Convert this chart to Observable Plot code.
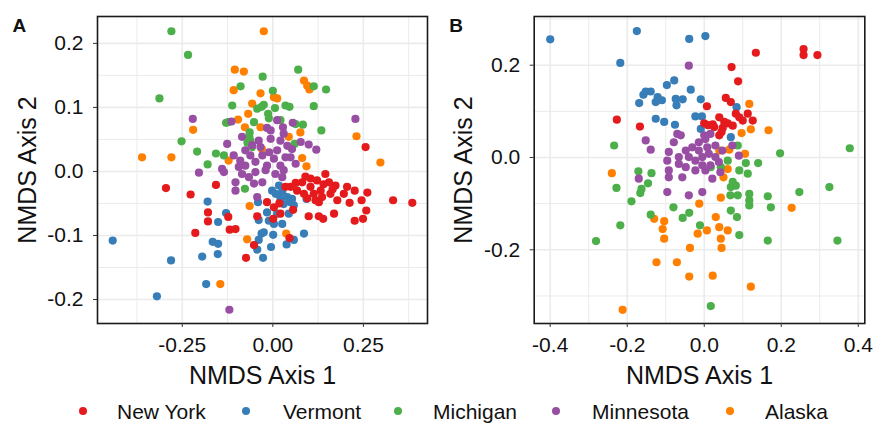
<!DOCTYPE html>
<html><head><meta charset="utf-8">
<script src="https://cdn.jsdelivr.net/npm/d3@7"></script>
<script src="https://cdn.jsdelivr.net/npm/@observablehq/plot@0.6"></script>
<style>
body{margin:0;background:#fff;font-family:"Liberation Sans",Arial,sans-serif;}
#wrap{position:relative;width:874px;height:423px;overflow:hidden;}
#wrap svg{position:absolute;top:0;}
.leg{position:absolute;top:400px;height:24px;line-height:24px;font-size:21px;color:#111;white-space:nowrap}
.dot{position:absolute;top:407px;width:8px;height:8px;border-radius:50%}
</style></head><body><div id="wrap"></div>
<script>
const states = ["New York", "Vermont", "Michigan", "Minnesota", "Alaska"];
const colors = ["#E41A1C", "#377EB8", "#4DAF4A", "#984EA3", "#FF7F00"];
const drawOrder = ["Alaska", "Michigan", "Vermont", "New York", "Minnesota"];

// Panel A (NMDS 1, NMDS 2)
const aNewYork = [[0.256,0.038],[-0.295,-0.026],[-0.227,-0.036],[-0.157,-0.021],[-0.179,-0.064],[-0.179,-0.078],[-0.214,-0.096],[-0.123,-0.071],[-0.119,-0.091],[-0.103,-0.090],[-0.052,-0.115],[-0.074,-0.135],[-0.043,-0.070],[-0.016,-0.048],[0.003,-0.056],[0.001,-0.074],[0.021,-0.066],[0.056,-0.060],[0.046,-0.104],[0.035,-0.024],[0.063,-0.018],[0.081,-0.017],[0.104,-0.011],[0.122,-0.014],[0.145,-0.004],[0.155,-0.017],[0.173,-0.022],[0.205,-0.024],[0.226,-0.030],[0.261,-0.033],[0.104,-0.024],[0.132,-0.030],[0.159,-0.035],[0.118,-0.045],[0.127,-0.048],[0.178,-0.045],[0.212,-0.049],[0.245,-0.045],[0.258,-0.061],[0.249,-0.074],[0.226,-0.077],[0.169,-0.066],[0.139,-0.074],[0.127,-0.070],[0.099,-0.070],[0.332,-0.045],[0.385,-0.049],[0.067,-0.030],[0.049,-0.024],[0.086,-0.035],[0.113,-0.035],[0.196,-0.035],[0.136,-0.040],[0.095,-0.042],[0.140,-0.020],[0.090,-0.008],[0.165,-0.028],[0.018,-0.050]];
const aVermont = [[-0.442,-0.108],[-0.320,-0.195],[-0.281,-0.139],[-0.184,-0.176],[-0.195,-0.133],[-0.180,-0.047],[-0.151,-0.079],[-0.166,-0.110],[-0.151,-0.113],[-0.152,-0.129],[-0.129,-0.065],[-0.041,-0.048],[-0.039,-0.076],[-0.031,-0.097],[-0.039,-0.107],[-0.043,-0.122],[-0.027,-0.135],[-0.005,-0.118],[0.001,-0.099],[-0.011,-0.077],[0.003,-0.082],[0.026,-0.082],[0.038,-0.114],[0.058,-0.107],[0.086,-0.097],[0.093,-0.043],[-0.002,-0.030],[0.017,-0.022],[0.026,-0.032],[0.040,-0.040],[0.049,-0.048],[0.058,-0.053],[0.044,-0.066],[0.021,-0.043],[0.030,-0.051],[-0.016,-0.064],[0.053,-0.043],[0.012,-0.066],[0.008,-0.035],[-0.025,-0.095]];
const aMichigan = [[-0.280,0.219],[-0.234,0.182],[-0.313,0.114],[-0.252,0.047],[-0.209,0.031],[-0.180,0.011],[-0.157,0.028],[-0.129,0.076],[-0.112,0.103],[-0.089,0.133],[-0.028,0.148],[-0.031,0.101],[-0.043,0.098],[-0.025,0.104],[0.000,0.126],[0.006,0.099],[-0.011,0.083],[0.035,0.103],[0.046,0.101],[0.070,0.159],[0.113,0.133],[0.147,0.128],[0.113,0.102],[0.083,0.073],[0.134,0.064],[-0.052,0.077],[-0.064,0.061],[-0.062,0.048],[-0.057,0.038],[-0.077,-0.027],[-0.123,0.077],[-0.135,0.025],[0.063,0.074],[0.060,0.043],[0.021,0.080],[-0.013,0.090],[-0.070,0.045],[-0.065,0.055]];
const aMinnesota = [[-0.221,0.082],[0.228,0.082],[-0.120,-0.216],[-0.204,-0.002],[-0.114,0.078],[-0.016,0.068],[0.012,0.080],[0.028,0.069],[0.055,0.076],[0.030,0.059],[-0.126,0.043],[-0.085,0.054],[-0.039,0.048],[-0.006,0.051],[0.021,0.048],[0.053,0.035],[0.077,0.046],[0.099,0.042],[0.120,0.034],[0.049,0.022],[0.063,0.012],[-0.140,0.004],[-0.108,0.025],[-0.090,0.017],[-0.076,0.009],[-0.062,0.025],[-0.048,0.015],[-0.029,0.025],[-0.016,0.009],[0.003,0.020],[0.021,0.009],[0.035,0.022],[-0.085,-0.004],[-0.066,-0.009],[-0.048,-0.001],[-0.029,-0.017],[-0.103,-0.017],[-0.103,-0.030],[-0.052,-0.019],[-0.020,0.002],[0.007,-0.004],[0.026,-0.009],[-0.043,-0.040],[-0.094,0.007],[0.012,0.033],[-0.034,0.038],[-0.006,0.064],[-0.076,0.033],[0.030,0.002],[-0.057,0.041],[-0.135,-0.001],[-0.010,0.030],[0.040,0.040]];
const aAlaska = [[-0.025,0.219],[-0.105,0.159],[-0.080,0.156],[-0.108,0.127],[-0.034,0.122],[0.003,0.116],[0.012,0.114],[-0.057,0.106],[-0.068,0.090],[-0.096,0.081],[-0.034,0.069],[-0.077,0.069],[-0.220,0.065],[-0.361,0.022],[-0.280,0.022],[-0.122,0.017],[0.086,0.142],[0.095,0.134],[0.101,0.128],[0.076,0.061],[0.044,0.054],[0.081,0.021],[0.093,0.008],[0.231,0.055],[0.297,0.014],[-0.064,-0.054],[-0.071,-0.106],[0.037,-0.097],[-0.145,-0.176],[-0.030,0.035]];

// Panel B (NMDS 1, NMDS 2)
const bNewYork = [[0.134,0.227],[0.258,0.235],[0.258,0.222],[0.294,0.222],[0.071,0.196],[0.088,0.165],[0.056,0.129],[0.069,0.120],[0.007,0.111],[-0.227,0.082],[-0.167,0.067],[0.000,0.074],[0.039,0.087],[0.082,0.095],[0.113,0.095],[0.126,0.080],[0.100,0.080],[0.061,0.074],[0.048,0.064],[0.039,0.048],[0.074,0.069],[0.026,0.066],[0.022,0.072],[0.091,0.087],[0.052,0.077],[0.010,0.070],[0.045,0.055]];
const bVermont = [[-0.400,0.256],[-0.175,0.274],[-0.039,0.257],[0.003,0.263],[-0.218,0.205],[-0.078,0.167],[-0.097,0.157],[-0.035,0.147],[-0.152,0.143],[-0.139,0.143],[-0.121,0.131],[-0.110,0.124],[-0.126,0.120],[-0.169,0.118],[-0.074,0.127],[-0.056,0.126],[-0.072,0.113],[-0.009,0.126],[-0.126,0.084],[-0.104,0.077],[-0.076,0.071],[-0.023,0.089],[-0.006,0.089],[-0.009,0.062],[0.084,0.109],[0.069,0.044],[-0.158,0.136]];
const bMichigan = [[0.378,0.020],[0.197,0.009],[0.140,-0.012],[0.108,-0.012],[0.113,-0.035],[0.091,-0.028],[0.087,0.026],[0.061,-0.007],[0.043,-0.021],[0.017,-0.021],[0.074,-0.053],[0.082,-0.061],[0.069,-0.064],[0.068,-0.082],[0.087,-0.082],[0.117,-0.079],[0.117,-0.093],[0.117,-0.104],[0.165,-0.084],[0.173,-0.108],[0.247,-0.075],[0.325,-0.064],[0.346,-0.180],[0.165,-0.180],[0.091,-0.168],[0.085,-0.129],[0.069,-0.115],[-0.011,-0.147],[-0.039,-0.120],[-0.056,-0.131],[-0.080,-0.108],[-0.139,-0.124],[-0.189,-0.095],[-0.218,-0.147],[-0.281,-0.181],[-0.228,-0.066],[-0.234,0.026],[-0.171,-0.030],[-0.137,-0.034],[-0.146,-0.056],[-0.166,-0.077],[-0.163,-0.068],[0.017,-0.322]];
const bMinnesota = [[-0.040,0.199],[-0.152,0.037],[-0.139,0.017],[-0.092,0.012],[-0.079,0.033],[-0.070,0.051],[-0.096,-0.007],[-0.092,-0.028],[-0.092,-0.043],[-0.170,-0.046],[-0.096,-0.075],[-0.040,-0.082],[-0.005,-0.075],[-0.057,-0.043],[-0.023,-0.028],[0.003,-0.028],[0.021,-0.046],[0.038,-0.010],[0.073,0.026],[0.090,0.004],[-0.048,0.015],[-0.031,0.022],[-0.014,0.033],[0.003,0.040],[0.016,0.051],[0.029,0.026],[-0.040,0.001],[-0.023,-0.007],[-0.005,0.001],[0.012,0.008],[0.029,0.001],[-0.066,0.001],[-0.066,-0.014],[-0.048,-0.021],[-0.005,-0.017],[0.016,-0.017],[0.042,-0.032],[-0.014,0.015],[0.047,0.015],[0.008,0.022],[-0.061,0.048],[0.000,0.048]];
const bAlaska = [[-0.212,-0.330],[-0.240,-0.034],[-0.124,-0.227],[-0.071,-0.227],[-0.039,-0.258],[0.022,-0.256],[0.121,-0.280],[-0.037,-0.196],[-0.017,-0.165],[0.007,-0.158],[-0.104,-0.176],[-0.108,-0.155],[-0.104,-0.138],[-0.130,-0.133],[-0.013,-0.100],[0.030,-0.129],[0.039,-0.151],[0.061,-0.158],[0.043,-0.176],[0.045,-0.196],[0.043,-0.087],[0.050,-0.043],[0.061,-0.025],[0.039,0.015],[0.065,0.017],[0.106,0.008],[0.097,0.053],[0.121,0.061],[0.167,0.059],[0.117,0.116],[0.227,-0.109]];

const aTicksX = [-0.25, 0, 0.25], aMinorX = [-0.375, -0.125, 0.125, 0.375];
const aTicksY = [-0.2, -0.1, 0, 0.1, 0.2], aMinorY = [-0.15, -0.05, 0.05, 0.15];
const bTicksX = [-0.4, -0.2, 0, 0.2, 0.4], bMinorX = [-0.3, -0.1, 0.1, 0.3];
const bTicksY = [-0.2, 0, 0.2], bMinorY = [-0.3, -0.1, 0.1, 0.3];

function rows(sets) {
  const out = [];
  for (const s of drawOrder) for (const [x, y] of sets[s]) out.push({state: s, x, y});
  return out;
}
const dataA = rows({"New York": aNewYork, "Vermont": aVermont, "Michigan": aMichigan, "Minnesota": aMinnesota, "Alaska": aAlaska});
const dataB = rows({"New York": bNewYork, "Vermont": bVermont, "Michigan": bMichigan, "Minnesota": bMinnesota, "Alaska": bAlaska});

const font = '"Liberation Sans", Arial, sans-serif';
function panel(o) {
  const grid = {stroke: "#ebebeb", strokeOpacity: 1};
  return Plot.plot({
    width: 437, height: 390,
    marginLeft: o.ml, marginRight: o.mr, marginTop: 16, marginBottom: 67,
    style: {fontFamily: font, background: "transparent", color: "#111", overflow: "visible"},
    x: {domain: o.xd}, y: {domain: o.yd},
    color: {domain: states, range: colors},
    marks: [
      Plot.gridX(o.xm, {...grid, strokeWidth: 1}),
      Plot.gridY(o.ym, {...grid, strokeWidth: 1}),
      Plot.gridX(o.xt, {...grid, strokeWidth: 1.6}),
      Plot.gridY(o.yt, {...grid, strokeWidth: 1.6}),
      Plot.dot(o.data, {x: "x", y: "y", fill: "state", r: 4.1}),
      Plot.frame({stroke: "#1a1a1a", strokeWidth: 1.6}),
      Plot.axisX(o.xt, {tickSize: 4, tickPadding: 10, tickFormat: d => d.toFixed(o.xf), fontSize: 21, label: null, stroke: "#333"}),
      Plot.axisY(o.yt, {tickSize: 4, tickPadding: 10, tickFormat: d => d.toFixed(1), fontSize: 21, label: null, stroke: "#333"}),
      Plot.text(["NMDS Axis 1"], {frameAnchor: "bottom", dy: 52, fontSize: 25, textAnchor: "middle", lineAnchor: "middle"}),
      Plot.text(["NMDS Axis 2"], {frameAnchor: "left", dx: -70, rotate: -90, fontSize: 25, textAnchor: "middle", lineAnchor: "middle"}),
      Plot.text([o.letter], {frameAnchor: "top-left", dx: o.ldx, dy: 2, fontSize: 19, fontWeight: "bold", textAnchor: "start", lineAnchor: "top"})
    ]
  });
}

const wrap = document.getElementById("wrap");
const svgA = panel({data: dataA, xd: [-0.484, 0.427], yd: [-0.2375, 0.242], xt: aTicksX, xm: aMinorX, yt: aTicksY, ym: aMinorY, xf: 2, ml: 97, mr: 10, letter: "A", ldx: -85});
svgA.style.left = "0px";
wrap.appendChild(svgA);
const svgB = panel({data: dataB, xd: [-0.4416, 0.417], yd: [-0.3597, 0.3055], xt: bTicksX, xm: bMinorX, yt: bTicksY, ym: bMinorY, xf: 1, ml: 96.7, mr: 9.7, letter: "B", ldx: -85});
svgB.style.left = "437px";
wrap.appendChild(svgB);

// legend
const legDot = [83, 246, 398, 556, 730];
const legText = [117, 283, 433, 592, 765];
states.forEach((s, i) => {
  const d = document.createElement("div");
  d.className = "dot";
  d.style.left = (legDot[i] - 4) + "px";
  d.style.background = colors[i];
  wrap.appendChild(d);
  const t = document.createElement("div");
  t.className = "leg";
  t.style.left = legText[i] + "px";
  t.textContent = s;
  wrap.appendChild(t);
});
</script></body></html>
